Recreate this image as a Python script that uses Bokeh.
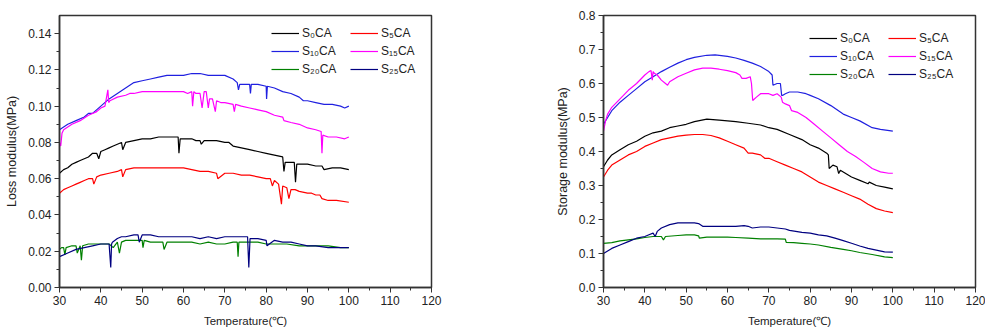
from bokeh.plotting import figure
from bokeh.models import Range1d, Legend, LegendItem, FixedTicker, CustomJSTickFormatter
from bokeh.layouts import row
from bokeh.embed import file_html
from bokeh.resources import INLINE

# ---------------- Loss modulus data ----------------
t_loss_s0 = [30,31,32,33,34,35,36,37,38,39,39.5,40,41,42,43,44,45,45.3,46,48,
             50,52,54,56,58,58.7,58.9,59.2,60,61,62,63,64,64.3,65,66,68,70,71,72,
             74,76,78,80,82,84,84.3,84.6,85,86,86.8,87.1,87.4,88,90,92,93.5,94,96,98,100]
loss_s0 = [.063,.065,.066,.068,.069,.070,.071,.072,.074,.074,.071,.075,.076,.077,.078,.079,.080,.076,.080,.081,
           .082,.082,.083,.083,.083,.083,.074,.082,.082,.082,.082,.081,.081,.079,.081,.081,.081,.080,.080,.078,
           .077,.076,.075,.074,.073,.072,.064,.069,.069,.069,.069,.058,.068,.068,.068,.067,.067,.065,.066,.066,.065]

t_loss_s5 = [30,31,32,33,34,35,36,37,38,38.3,39,40,42,44,45,45.3,46,48,50,52,54,56,58,60,62,64,66,68,
             68.3,70,72,74,76,78,80,81,81.5,82,83,83.7,84,85,85.5,86,87,88,90,91,92,93,93.5,95,97,100]
loss_s5 = [.052,.054,.055,.056,.057,.058,.059,.060,.060,.057,.061,.062,.063,.064,.065,.061,.065,.066,
           .066,.066,.066,.066,.066,.066,.065,.064,.064,.063,.060,.063,.063,.062,.062,.061,.060,.060,.056,.059,
           .057,.046,.056,.055,.049,.054,.054,.053,.052,.052,.051,.051,.049,.048,.048,.047]

t_loss_s10 = [30,32,34,36,37,38,40,42,44,46,48,50,52,54,56,58,60,62,64,66,68,70,72,73,73.3,73.6,74,76,76.2,76.4,
              78,80,80.1,80.3,82,84,86,88,89,90,92,94,96,98,99,100]
loss_s10 = [.087,.090,.092,.094,.096,.096,.100,.104,.107,.110,.113,.114,.115,.116,.117,.117,.117,.118,.118,.117,
            .117,.117,.115,.113,.109,.112,.112,.112,.107,.112,.112,.111,.104,.111,.110,.108,.107,.105,.103,.103,
            .102,.101,.101,.100,.099,.100]

t_loss_s15 = [30,30.3,30.6,31,33,35,37,39,40,41,41.7,41.9,42.2,44,46,47,48,50,52,54,56,58,60,61,62,62.2,62.5,63,64,64.5,
              65,65.5,66,66.3,67,67.7,68,69,70,72,72.3,72.6,74,76,78,80,82,84,84.3,86,88,90,92,93.3,93.5,93.7,95,97,99,100]
loss_s15 = [.080,.078,.085,.087,.090,.092,.095,.097,.099,.100,.109,.102,.103,.105,.106,.107,.107,.108,.108,.108,
            .108,.108,.108,.107,.108,.100,.108,.107,.107,.099,.108,.108,.099,.104,.104,.097,.103,.102,.102,.101,
            .097,.101,.100,.099,.098,.097,.095,.094,.092,.091,.090,.088,.087,.086,.074,.084,.083,.083,.082,.083]

t_loss_s20 = [30,30.5,31,31.3,31.6,33,34,34.3,35,35.3,35.6,37,39,40,42,43,44,44.5,45,46,48,50,50.2,50.5,52,54,55,55.3,56,58,
              60,62,64,66,68,70,72,73,73.2,73.4,75,78,80,82,85,88,90,93,95,98,100]
loss_s20 = [.021,.022,.022,.018,.022,.023,.023,.019,.023,.015,.023,.024,.024,.024,.024,.022,.025,.019,.025,.026,
            .026,.026,.022,.026,.025,.025,.025,.021,.025,.025,.025,.025,.024,.025,.024,.024,.025,.025,.017,.025,
            .025,.025,.024,.024,.024,.023,.023,.023,.023,.022,.022]

t_loss_s25 = [30,32,34,36,38,40,42,42.4,42.6,42.8,44,45,46,48,49,49.3,50,52,54,56,58,60,62,64,66,68,70,72,74,75.5,
              75.8,76.1,78,80,80.2,82,84,86,88,90,92,95,98,100]
loss_s25 = [.017,.019,.021,.022,.023,.024,.024,.011,.024,.025,.027,.028,.028,.029,.029,.025,.029,.029,.028,.028,
            .028,.028,.028,.027,.028,.027,.028,.028,.028,.028,.011,.027,.027,.026,.023,.026,.025,.025,.024,.023,
            .023,.022,.022,.022]

# ---------------- Storage modulus data ----------------
t_sto_s0 = [30,31,32,34,36,38,40,42,44,46,48,50,52,55,58,60,62,65,68,70,
            72,75,78,80,82,84,84.4,84.6,85.5,86.5,86.9,87.3,88,90,92,94,94.3,96,98,100]
sto_s0 = [.355,.375,.39,.405,.42,.43,.445,.455,.46,.47,.475,.48,.488,.495,.492,.49,.488,.483,.478,.47,
          .465,.45,.435,.42,.41,.395,.39,.35,.36,.355,.335,.345,.34,.325,.315,.305,.31,.30,.295,.29]

t_sto_s5 = [30,31,32,34,36,38,40,42,44,46,48,50,52,54,56,58,60,62,64,65,
            66,68,69,70,72,74,76,78,80,82,84,86,88,90,92,94,96,98,100]
sto_s5 = [.325,.345,.36,.375,.39,.40,.415,.425,.435,.44,.445,.448,.45,.45,.447,.44,.43,.42,.41,.395,
          .395,.39,.38,.38,.37,.36,.35,.34,.325,.31,.30,.29,.28,.27,.26,.245,.232,.225,.22]

t_sto_s10 = [30,31,32,34,36,38,40,42,44,46,48,50,52,55,57,60,62,64,66,68,
             70,70.8,71,72,72.8,73.1,73.3,74,75,77,79,80,82,85,88,90,92,95,97,100]
sto_s10 = [.48,.50,.52,.545,.565,.585,.605,.62,.635,.648,.66,.67,.677,.683,.684,.68,.675,.668,.66,.65,
           .635,.625,.595,.60,.60,.565,.565,.57,.575,.575,.57,.565,.555,.535,.51,.50,.49,.47,.465,.46]

t_sto_s15 = [30,30.5,31,32,34,36,38,40,41,41.5,41.8,42,42.3,43,44,45,45.5,46,48,50,
             52,54,56,58,60,62,63,63.5,64.5,65.5,65.8,66.1,67,68,69,70,71,72,73,73.3,
             74,75,75.5,77,79,81,83,85,87,89,91,93,95,97,99,100]
sto_s15 = [.46,.49,.51,.53,.555,.58,.60,.625,.635,.638,.61,.635,.63,.625,.61,.60,.595,.605,.62,.63,
           .64,.645,.645,.642,.638,.632,.625,.615,.615,.62,.60,.55,.56,.57,.57,.57,.565,.57,.56,.545,
           .54,.535,.52,.515,.50,.48,.46,.44,.42,.40,.385,.368,.35,.34,.336,.336]

t_sto_s20 = [30,32,34,36,38,40,42,44,44.5,45,48,50,52,53,53.2,55,58,60,62,65,
             68,70,72,74,74.2,76,78,80,82,85,88,90,92,95,98,100]
sto_s20 = [.13,.132,.137,.14,.143,.147,.15,.15,.14,.15,.153,.155,.155,.152,.145,.148,.148,.148,.147,.145,
           .143,.143,.143,.142,.133,.132,.13,.128,.125,.118,.112,.108,.103,.097,.09,.088]

t_sto_s25 = [30,32,34,36,38,40,41,42,42.5,43,44,46,48,50,52,53,54,55,58,60,
             62,64,65,66,68,70,72,74,75,78,80,82,84,86,88,90,92,94,96,98,100]
sto_s25 = [.10,.115,.125,.135,.145,.15,.155,.16,.15,.165,.175,.185,.19,.19,.19,.188,.18,.18,.18,.18,
           .18,.182,.18,.175,.178,.178,.175,.172,.168,.162,.16,.155,.152,.145,.138,.13,.122,.115,.11,.105,.104]

series_names = ["S\u2080CA", "S\u2085CA", "S\u2081\u2080CA", "S\u2081\u2085CA", "S\u2082\u2080CA", "S\u2082\u2085CA"]
series_colors = ["#000000", "#ff0000", "#2020e0", "#ff00ff", "#008000", "#000080"]

x_ticks = [30, 40, 50, 60, 70, 80, 90, 100, 110, 120]
loss_ticks = [0.00, 0.02, 0.04, 0.06, 0.08, 0.10, 0.12, 0.14]
sto_ticks = [0.0, 0.1, 0.2, 0.3, 0.4, 0.5, 0.6, 0.7, 0.8]

FONT = "Liberation Sans"


def make_fig(border_left, border_right, ymax, yticks, yminor, ylabel, fmt, ts, vs, legend_loc):
    p = figure(frame_width=372, frame_height=272, output_backend="svg", toolbar_location=None,
               x_range=Range1d(30, 120), y_range=Range1d(0, ymax),
               min_border_left=border_left, min_border_right=border_right,
               min_border_top=15, min_border_bottom=42)
    p.outline_line_color = "#333333"
    p.outline_line_width = 1.5
    p.xgrid.visible = False
    p.ygrid.visible = False
    p.background_fill_color = "white"
    p.border_fill_color = "white"

    for ax in (p.xaxis[0], p.yaxis[0]):
        ax.axis_line_color = "#333333"
        ax.axis_line_width = 1.5
        ax.major_tick_in = 0
        ax.major_tick_out = 5
        ax.minor_tick_in = 0
        ax.minor_tick_out = 3
        ax.major_tick_line_color = "#333333"
        ax.minor_tick_line_color = "#333333"
        ax.major_label_text_font = FONT
        ax.major_label_text_font_size = "12px"
        ax.major_label_text_color = "#222222"
        ax.axis_label_text_font = FONT
        ax.axis_label_text_font_style = "normal"
        ax.axis_label_text_color = "#222222"

    p.xaxis[0].axis_label_text_font_size = "11.5px"
    p.yaxis[0].axis_label_text_font_size = "12.5px"
    p.xaxis[0].ticker = FixedTicker(ticks=x_ticks, minor_ticks=[x + 5 for x in x_ticks[:-1]])
    p.yaxis[0].ticker = FixedTicker(ticks=yticks, minor_ticks=yminor)
    p.yaxis[0].formatter = CustomJSTickFormatter(code="return tick.toFixed(%d);" % fmt)
    p.xaxis[0].axis_label = "Temperature(\u2103)"
    p.yaxis[0].axis_label = ylabel
    p.xaxis[0].axis_label_standoff = 7
    p.yaxis[0].axis_label_standoff = 6
    p.xaxis[0].major_label_standoff = 3
    p.yaxis[0].major_label_standoff = 3

    renderers = []
    for t, v, c in zip(ts, vs, series_colors):
        r = p.line(t, v, line_color=c, line_width=1.2)
        renderers.append(r)

    order = [0, 2, 4, 1, 3, 5]
    items = [LegendItem(label=series_names[i], renderers=[renderers[i]]) for i in order]
    legend = Legend(items=items, location=legend_loc, orientation="vertical", ncols=2,
                    background_fill_alpha=0, border_line_alpha=0,
                    padding=0, margin=0, spacing=0,
                    glyph_width=28, glyph_height=18, label_height=18, label_width=48,
                    label_standoff=3, label_text_font=FONT, label_text_font_size="12px",
                    label_text_color="#222222")
    p.add_layout(legend, "center")
    return p


p1 = make_fig(59, 60, 0.15, loss_ticks, [0.01, 0.03, 0.05, 0.07, 0.09, 0.11, 0.13],
              "Loss modulus(MPa)", 2,
              [t_loss_s0, t_loss_s5, t_loss_s10, t_loss_s15, t_loss_s20, t_loss_s25],
              [loss_s0, loss_s5, loss_s10, loss_s15, loss_s20, loss_s25], (212, 209))
p2 = make_fig(112, 10, 0.8, sto_ticks, [0.05, 0.15, 0.25, 0.35, 0.45, 0.55, 0.65, 0.75],
              "Storage modulus(MPa)", 1,
              [t_sto_s0, t_sto_s5, t_sto_s10, t_sto_s15, t_sto_s20, t_sto_s25],
              [sto_s0, sto_s5, sto_s10, sto_s15, sto_s20, sto_s25], (206, 204))

layout = row(p1, p2, spacing=0)
open("out.html", "w").write(file_html(layout, INLINE))
